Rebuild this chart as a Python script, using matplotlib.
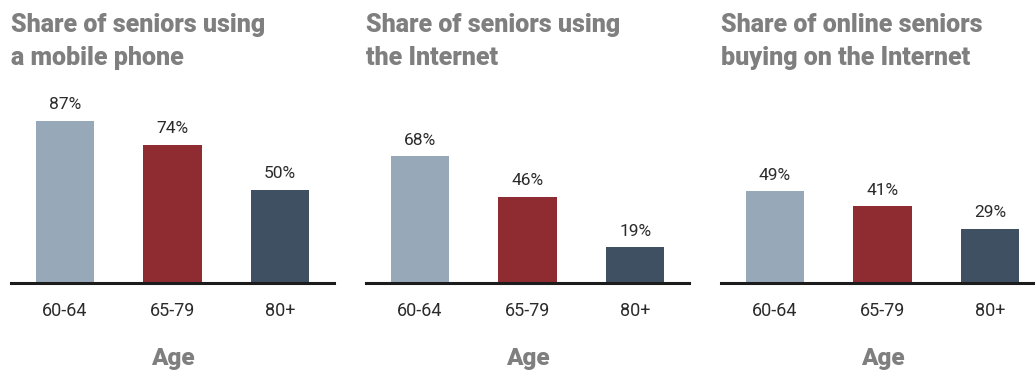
import matplotlib
matplotlib.use("Agg")
import matplotlib.pyplot as plt
from matplotlib.transforms import offset_copy

# ---- data ----
categories = ["60-64", "65-79", "80+"]
titles = [
    ["Share of seniors using", "a mobile phone"],
    ["Share of seniors using", "the Internet"],
    ["Share of online seniors", "buying on the Internet"],
]
mobile = [87, 74, 50]
internet = [68, 46, 19]
buying = [49, 41, 29]
series = [mobile, internet, buying]
xlabel = "Age"

colors = ["#97a9b9", "#8f2c32", "#3e5062"]
title_color = "#7f7f7f"
text_color = "#2b2b2b"

W, H = 1035, 374
dpi = 100
fig = plt.figure(figsize=(W / dpi, H / dpi), dpi=dpi)
fig.patch.set_facecolor("white")

base_px = 282.5          # baseline y from top
scale = 1.86             # px per percent
ax_h = 100 * scale
lefts = [11, 366, 721]
ax_w = 323

for i, vals in enumerate(series):
    l = lefts[i]
    ax = fig.add_axes([l / W, (H - base_px) / H, ax_w / W, ax_h / H])
    ax.set_xlim(-0.5, 2.5)
    ax.set_ylim(0, 100)
    ax.axis("off")
    xs = list(range(len(categories)))
    ax.bar(xs, vals, width=0.54, color=colors, zorder=1)
    ax.axhline(0, color="#1c1c1c", lw=2.2, zorder=3, clip_on=False)
    for x, v in zip(xs, vals):
        t = offset_copy(ax.transData, fig=fig, x=0, y=11.5, units="dots")
        ax.text(x, v, f"{v}%", transform=t, ha="center", va="baseline",
                fontsize=12.5, family="Roboto", color=text_color)
    for x, c in zip(xs, categories):
        t = offset_copy(ax.transData, fig=fig, x=0, y=-34, units="dots")
        ax.text(x, 0, c, transform=t, ha="center", va="baseline",
                fontsize=13, family="Roboto", color=text_color)
    t = offset_copy(ax.transData, fig=fig, x=0, y=-82.5, units="dots")
    ax.text(1, 0, xlabel, transform=t, ha="center", va="baseline",
            fontsize=17.5, family="Roboto", fontweight="black", color=title_color)
    # titles
    fig.text(l / W, (H - 31.7) / H, titles[i][0], ha="left", va="baseline",
             fontsize=18, family="Roboto", fontweight="black", color=title_color)
    fig.text(l / W, (H - 65) / H, titles[i][1], ha="left", va="baseline",
             fontsize=18, family="Roboto", fontweight="black", color=title_color)

fig.savefig("out.png", dpi=dpi, facecolor="white")
